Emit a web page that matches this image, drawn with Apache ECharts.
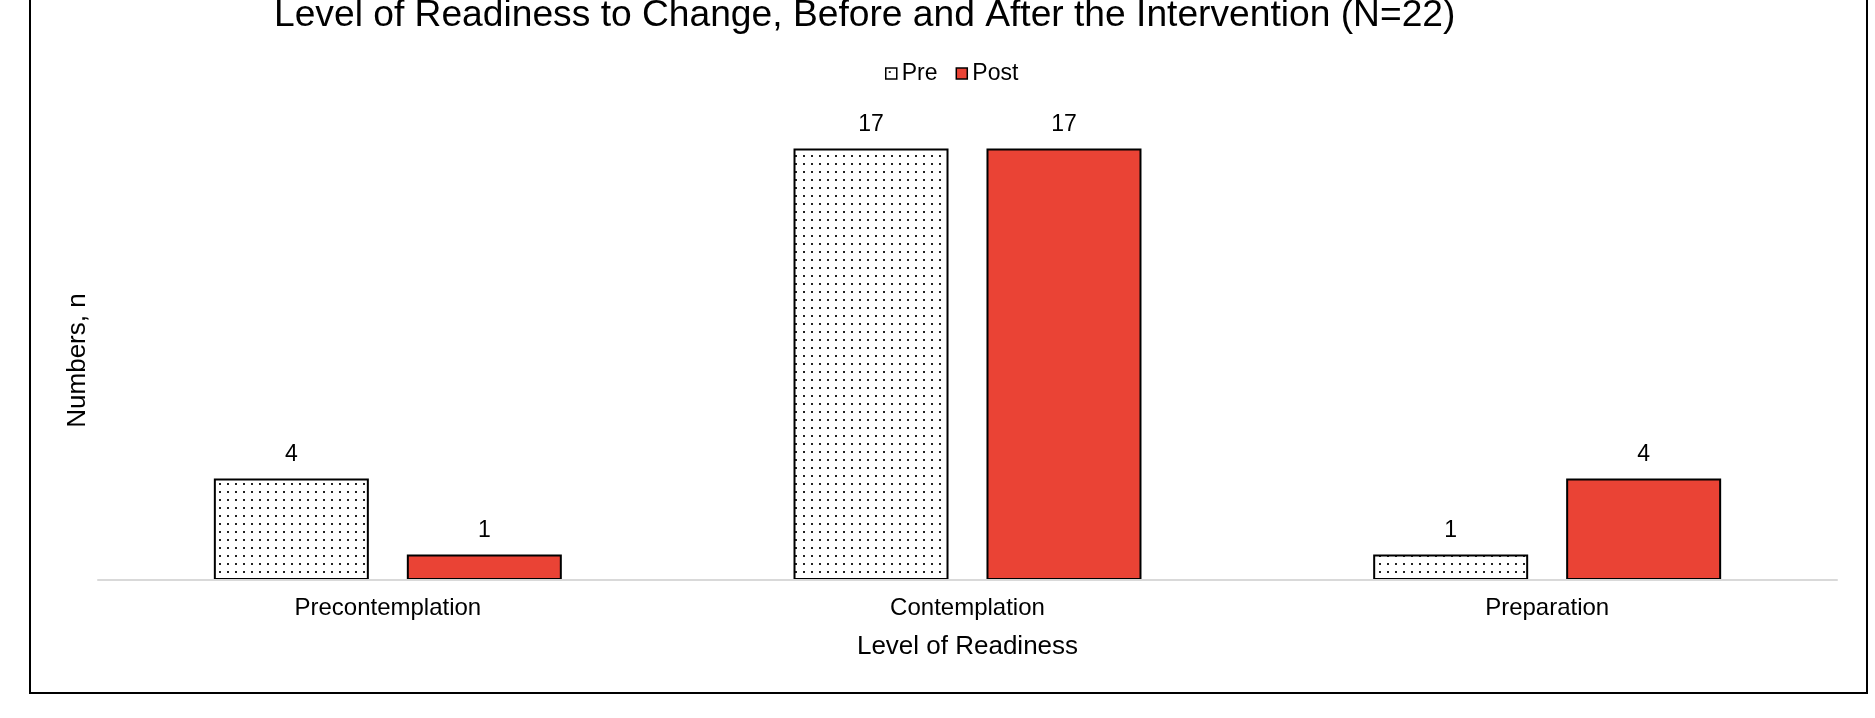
<!DOCTYPE html>
<html>
<head>
<meta charset="utf-8">
<script src="https://cdn.jsdelivr.net/npm/echarts@6/dist/echarts.min.js"></script>
<style>
html,body{margin:0;padding:0;background:#fff;}
#chart{width:1875px;height:718px;}
</style>
</head>
<body>
<div id="chart"></div>
<script>
const categories = ['Precontemplation', 'Contemplation', 'Preparation'];
const preValues = [4, 17, 1];
const postValues = [1, 17, 4];
const seriesNames = ['Pre', 'Post'];

const FONT = '"Liberation Sans", Arial, sans-serif';

function dotPattern() {
  const c = document.createElement('canvas');
  c.width = 8; c.height = 8;
  const ctx = c.getContext('2d');
  ctx.fillStyle = '#fff';
  ctx.fillRect(0, 0, 8, 8);
  ctx.fillStyle = '#222';
  ctx.fillRect(3, 3, 2, 2);
  return c;
}
const prePattern = { image: dotPattern(), repeat: 'repeat' };

const chart = echarts.init(document.getElementById('chart'), null, { renderer: 'canvas' });
chart.setOption({
  backgroundColor: '#fff',
  animation: false,
  textStyle: { fontFamily: FONT },
  title: {
    text: 'Level of Readiness to Change, Before and After the Intervention (N=22)',
    left: 274,
    top: -3,
    padding: 0,
    textStyle: { fontFamily: FONT, fontSize: 37.2, fontWeight: 'normal', color: '#000' }
  },
  legend: {
    data: seriesNames,
    left: 885,
    top: 62,
    icon: 'rect',
    itemWidth: 11,
    itemHeight: 11,
    itemGap: 18,
    padding: 0,
    itemStyle: { borderColor: '#000', borderWidth: 1.5 },
    textStyle: { fontFamily: FONT, fontSize: 23, color: '#000' }
  },
  grid: { left: 98, right: 38, top: 141, bottom: 138, containLabel: false },
  xAxis: {
    type: 'category',
    data: categories,
    z: 5,
    name: 'Level of Readiness',
    nameLocation: 'middle',
    nameGap: 54,
    nameTextStyle: { fontFamily: FONT, fontSize: 26, color: '#000' },
    axisLine: { show: true, lineStyle: { color: '#d9d9d9', width: 2 } },
    axisTick: { show: false },
    axisLabel: { fontFamily: FONT, fontSize: 24, color: '#000', margin: 16 },
    splitLine: { show: false }
  },
  yAxis: {
    type: 'value',
    min: 0,
    max: 17.3,
    name: 'Numbers, n',
    nameLocation: 'middle',
    nameGap: 7,
    nameTextStyle: { fontFamily: FONT, fontSize: 26, color: '#000' },
    axisLine: { show: false },
    axisTick: { show: false },
    axisLabel: { show: false },
    splitLine: { show: false }
  },
  series: [
    {
      name: seriesNames[0],
      type: 'bar',
      data: preValues,
      barWidth: 155,
      barGap: '24.5%',
      itemStyle: { color: prePattern, borderColor: '#000', borderWidth: 2 },
      label: { show: true, position: 'top', distance: 12, fontFamily: FONT, fontSize: 23, color: '#000' }
    },
    {
      name: seriesNames[1],
      type: 'bar',
      data: postValues,
      barWidth: 155,
      barGap: '24.5%',
      itemStyle: { color: '#EA4335', borderColor: '#000', borderWidth: 2 },
      label: { show: true, position: 'top', distance: 12, fontFamily: FONT, fontSize: 23, color: '#000' }
    }
  ],
  graphic: [
    {
      type: 'rect',
      z: 100,
      silent: true,
      shape: { x: 30, y: -20, width: 1837, height: 713 },
      style: { fill: 'none', stroke: '#000', lineWidth: 2 }
    }
  ]
});
</script>
</body>
</html>
